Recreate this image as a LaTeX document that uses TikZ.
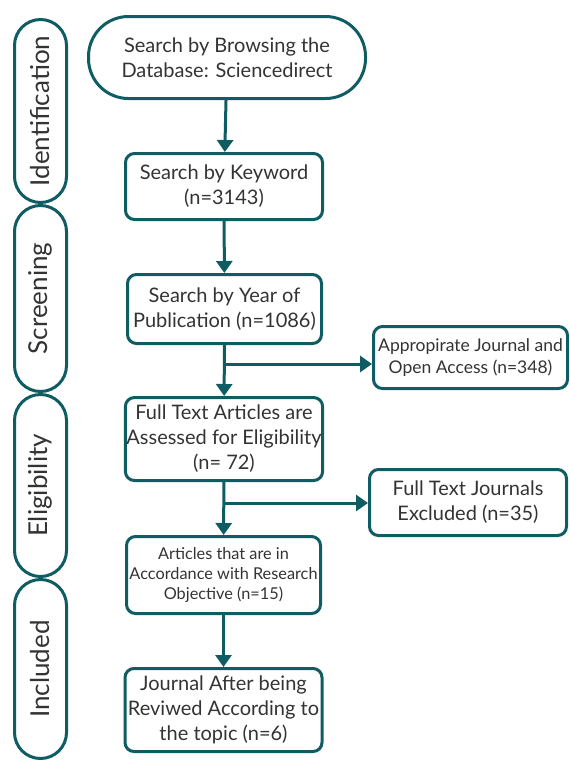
\documentclass[tikz,border=0pt]{standalone}
\usepackage{fontspec}
\setmainfont{Lato}
\usetikzlibrary{arrows.meta}
\definecolor{prismacol}{HTML}{0F5C63}
\definecolor{textcol}{HTML}{333333}

\begin{document}
\begin{tikzpicture}[x=1pt,y=-1pt,
  box/.style={draw=prismacol,line width=3pt,rounded corners=9pt,align=center,text=textcol,font=\fontsize{20}{25}\selectfont,inner sep=1pt},
  phase/.style={draw=prismacol,line width=3pt,rounded corners=26pt,rotate=90,minimum height=52pt,text=textcol,font=\fontsize{26}{30}\selectfont},
  arr/.style={draw=prismacol,line width=3pt,-{Triangle[width=16pt,length=12pt]}}]
  \useasboundingbox (0,0) rectangle (570,763);
  \node [phase,minimum width=183pt] (ident) at (40.5,111) {Identification};
  \node [phase,minimum width=186pt] (screen) at (40.5,298.5) {Screening};
  \node [phase,minimum width=182pt] (elig) at (40.5,485.5) {Eligibility};
  \node [phase,minimum width=179pt] (incl) at (40.5,669) {Included};
  \node [box,rounded corners=40pt,minimum width=277pt,minimum height=82pt] (browse) at (227,57.5) {Search by Browsing the\\Database: Sciencedirect};
  \node [box,minimum width=197pt,minimum height=66pt] (keyword) at (224,186.5) {Search by Keyword\\(n=3143)};
  \node [box,minimum width=194pt,minimum height=69pt] (year) at (224.5,309) {Search by Year of\\Publication (n=1086)};
  \node [box,minimum width=197pt,minimum height=83pt] (fulltext) at (224,439) {Full Text Articles are\\Assessed for Eligibility\\(n= 72)};
  \node [box,font=\fontsize{16.3}{20}\selectfont,minimum width=194pt,minimum height=77pt] (accord) at (223.5,575) {Articles that are in\\Accordance with Research\\Objective (n=15)};
  \node [box,minimum width=197pt,minimum height=83pt] (journal) at (223.5,710) {Journal After being\\Reviwed According to\\the topic (n=6)};
  \node [box,font=\fontsize{17.5}{22}\selectfont,minimum width=194pt,minimum height=62pt] (openacc) at (470.5,357.5) {Appropirate Journal and\\Open Access (n=348)};
  \node [box,minimum width=197pt,minimum height=66pt] (excl) at (468,502.5) {Full Text Journals\\Excluded (n=35)};
  \coordinate (split1) at (year.south |- 0,364);
  \coordinate (split2) at (fulltext.south |- 0,503);
  \draw [arr] (browse) -- (keyword);
  \draw [arr] (keyword) -- (year);
  \draw [arr] (year) -- (fulltext);
  \draw [arr] (split1) -- (split1 -| openacc.west);
  \draw [arr] (fulltext) -- (accord);
  \draw [arr] (split2) -- (split2 -| excl.west);
  \draw [arr] (accord) -- (journal);
\end{tikzpicture}
\end{document}
